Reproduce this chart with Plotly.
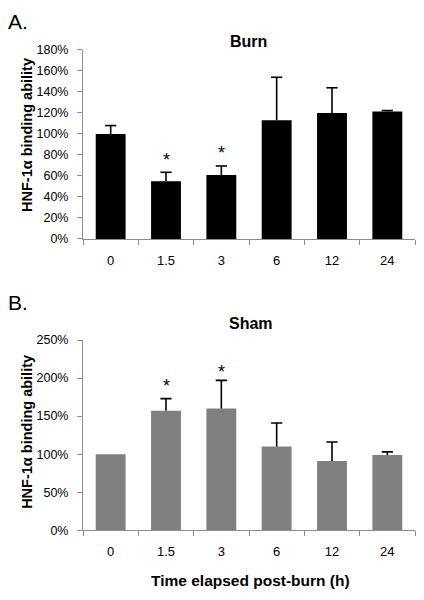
import plotly.graph_objects as go

categories = ["0", "1.5", "3", "6", "12", "24"]
burn_mean = [100, 55, 61, 113, 120, 121.5]
burn_err = [8, 8.5, 8.5, 41, 24, 0.8]
sham_mean = [100, 157, 160, 110, 91, 99]
sham_err = [0, 16, 37, 31, 25, 4]
burn_star_cats = ["1.5", "3"]
burn_star_y = [75, 82]
sham_star_cats = ["1.5", "3"]
sham_star_y = [190, 208]
burn_ticks = list(range(0, 181, 20))
sham_ticks = list(range(0, 251, 50))

W, H = 424, 600
FONT = "Liberation Sans, Arial, sans-serif"
AX = "#8c8c8c"

fig = go.Figure()

def add_panel(mean, err, color, xa, ya):
    fig.add_trace(go.Bar(x=categories, y=mean, marker=dict(color=color, line=dict(width=0)),
                         error_y=dict(type="data", symmetric=False, array=err,
                                      arrayminus=[0] * len(err), color="#000000",
                                      thickness=1.6, width=0),
                         xaxis=xa, yaxis=ya, hoverinfo="skip"))
    # caps at the top of each error bar (none where the error is zero)
    caps = [m + e if e > 0 else None for m, e in zip(mean, err)]
    fig.add_trace(go.Scatter(x=categories, y=caps, mode="markers",
                             marker=dict(symbol="line-ew", size=8,
                                         line=dict(color="#000000", width=1.6)),
                             xaxis=xa, yaxis=ya, hoverinfo="skip"))

add_panel(burn_mean, burn_err, "#000000", "x", "y")
add_panel(sham_mean, sham_err, "#808080", "x2", "y2")

xd = [83 / W, 415 / W]
dA = [(H - 237.5) / H, (H - 44) / H]
dB = [(H - 535.7) / H, (H - 341) / H]

def xax(anchor):
    return dict(domain=xd, anchor=anchor, showline=True, linecolor=AX, linewidth=1,
                ticks="outside", tickson="boundaries", ticklen=5, tickcolor=AX,
                tickfont=dict(family=FONT, size=13, color="#000"), showgrid=False,
                ticklabelstandoff=9)

def yax(anchor, dom, rng, tv):
    return dict(domain=dom, anchor=anchor, range=rng, tickvals=tv,
                ticktext=[f"{v}%" for v in tv], showline=True, linecolor=AX, linewidth=1,
                ticks="outside", ticklen=5, tickcolor=AX, showgrid=False, zeroline=False,
                tickfont=dict(family=FONT, size=12.5, color="#000"), ticklabelstandoff=6)

annots = []
for c, y in zip(burn_star_cats, burn_star_y):
    annots.append(dict(x=categories.index(c), y=y, xref="x", yref="y", text="*", showarrow=False,
                       font=dict(family=FONT, size=18, color="#000"), yanchor="middle"))
for c, y in zip(sham_star_cats, sham_star_y):
    annots.append(dict(x=categories.index(c), y=y, xref="x2", yref="y2", text="*", showarrow=False,
                       font=dict(family=FONT, size=18, color="#000"), yanchor="middle"))

def pa(text, x, y, size, bold=False, angle=0, xanchor="center"):
    return dict(text=f"<b>{text}</b>" if bold else text, x=x / W, y=1 - y / H,
                xref="paper", yref="paper", showarrow=False, textangle=angle,
                xanchor=xanchor, yanchor="middle", font=dict(family=FONT, size=size, color="#000"))

annots += [
    pa("A.", 6, 15, 21, xanchor="left"),
    pa("B.", 6, 303, 21, xanchor="left"),
    pa("Burn", 248, 35, 16, bold=True),
    pa("Sham", 251, 324, 16, bold=True),
    pa("HNF-1α binding ability", 27, 131, 14.5, bold=True, angle=-90),
    pa("HNF-1α binding ability", 27, 435, 14.5, bold=True, angle=-90),
    pa("Time elapsed post-burn (h)", 251, 587, 15.5, bold=True),
]

fig.update_layout(
    width=W, height=H, margin=dict(l=0, r=0, t=0, b=0),
    paper_bgcolor="white", plot_bgcolor="white", showlegend=False,
    bargap=0.46,
    xaxis=xax("y"), yaxis=yax("x", dA, [0, 180], burn_ticks),
    xaxis2=xax("y2"), yaxis2=yax("x2", dB, [0, 250], sham_ticks),
    annotations=annots,
)

fig.write_html("out.html", config={"displayModeBar": False},
               post_script="document.body.style.margin='0';document.body.style.padding='0';")
